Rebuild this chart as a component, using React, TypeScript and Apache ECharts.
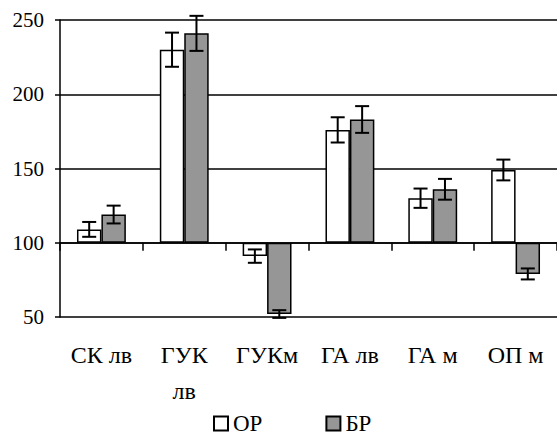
import React, { useEffect, useRef } from "react";
import * as echarts from "echarts";

const categories = ["СК лв", "ГУК\nлв", "ГУКм", "ГА лв", "ГА м", "ОП м"];
const seriesNames = ["ОР", "БР"];
const orValues = [109, 230, 91, 176, 130, 149];
const orErrors = [5, 11.5, 4.5, 8.5, 6.5, 7];
const brValues = [119, 241, 52, 183, 136, 79];
const brErrors = [6, 11.8, 2.6, 9, 7, 3.7];
const baseValue = 100;
const yMin = 50;
const yMax = 250;
const yStep = 50;

const FONT = "'Liberation Serif', 'Times New Roman', serif";
const CAT_GAP = 0.41;

export default function App() {
  const ref = useRef<HTMLDivElement>(null);
  useEffect(() => {
    if (!ref.current) return;
    const chart = echarts.init(ref.current, null, { renderer: "svg" });
    const errSeries = (vals: number[], errs: number[], sIdx: number) => ({
      type: "custom",
      name: seriesNames[sIdx] + "_err",
      xAxisIndex: 0,
      yAxisIndex: 0,
      z: 10,
      silent: true,
      data: vals.map((v, i) => [i, v - errs[i] - baseValue, v + errs[i] - baseValue]),
      encode: { x: 0, y: [1, 2] },
      renderItem: (params: any, api: any) => {
        const i = api.value(0);
        const lo = api.value(1);
        const hi = api.value(2);
        const band = api.size([1, 0])[0];
        const barW = (band * (1 - CAT_GAP)) / 2;
        const off = sIdx === 0 ? -barW / 2 : barW / 2;
        const pLo = api.coord([i, lo]);
        const pHi = api.coord([i, hi]);
        const x = pLo[0] + off;
        const cap = 7;
        const st = { stroke: "#000", lineWidth: 2 };
        return {
          type: "group",
          children: [
            { type: "line", shape: { x1: x, y1: pLo[1], x2: x, y2: pHi[1] }, style: st },
            { type: "line", shape: { x1: x - cap, y1: pLo[1], x2: x + cap, y2: pLo[1] }, style: st },
            { type: "line", shape: { x1: x - cap, y1: pHi[1], x2: x + cap, y2: pHi[1] }, style: st },
          ],
        };
      },
    });
    chart.setOption({
      animation: false,
      backgroundColor: "#fff",
      textStyle: { fontFamily: FONT },
      grid: { left: 60, right: 0, top: 20, bottom: 118 },
      legend: {
        data: seriesNames,
        bottom: 0,
        left: 213,
        padding: [0, 5, 0, 0],
        icon: "rect",
        itemWidth: 14,
        itemHeight: 14,
        itemGap: 63,
        textStyle: { fontFamily: FONT, fontSize: 23, color: "#000" },
      },
      xAxis: [
        {
          type: "category",
          data: categories,
          axisLine: { onZero: true, lineStyle: { color: "#000", width: 1.5 } },
          axisTick: { show: true, length: 8, lineStyle: { color: "#000", width: 1.5 } },
          axisLabel: { show: false },
        },
        {
          type: "category",
          data: categories,
          position: "bottom",
          axisLine: { show: false, onZero: false },
          axisTick: { show: false },
          axisLabel: {
            show: true,
            margin: 20,
            fontFamily: FONT,
            fontSize: 24,
            color: "#000",
            lineHeight: 36,
            interval: 0,
            verticalAlign: "top",
          },
        },
      ],
      yAxis: {
        type: "value",
        min: yMin - baseValue,
        max: yMax - baseValue,
        interval: yStep,
        axisLine: { show: true, lineStyle: { color: "#000", width: 1.5 } },
        axisTick: { show: true, length: 5, lineStyle: { color: "#000", width: 1.5 } },
        axisLabel: {
          formatter: (v: number) => String(v + baseValue),
          fontFamily: FONT,
          fontSize: 21,
          color: "#000",
          margin: 16,
        },
        splitLine: { show: true, lineStyle: { color: "#000", width: 1.5 } },
      },
      series: [
        {
          type: "bar",
          name: seriesNames[0],
          xAxisIndex: 0,
          data: orValues.map((v) => v - baseValue),
          barGap: "0%",
          barCategoryGap: CAT_GAP * 100 + "%",
          itemStyle: { color: "#fff", borderColor: "#000", borderWidth: 1.5 },
        },
        {
          type: "bar",
          name: seriesNames[1],
          xAxisIndex: 0,
          data: brValues.map((v) => v - baseValue),
          barGap: "0%",
          barCategoryGap: CAT_GAP * 100 + "%",
          itemStyle: { color: "#969696", borderColor: "#000", borderWidth: 1.5 },
        },
        errSeries(orValues, orErrors, 0),
        errSeries(brValues, brErrors, 1),
      ],
    });
    return () => chart.dispose();
  }, []);
  return (
    <div
      ref={ref}
      style={{ position: "fixed", left: 0, top: 0, width: 557, height: 435, background: "#fff" }}
    />
  );
}
